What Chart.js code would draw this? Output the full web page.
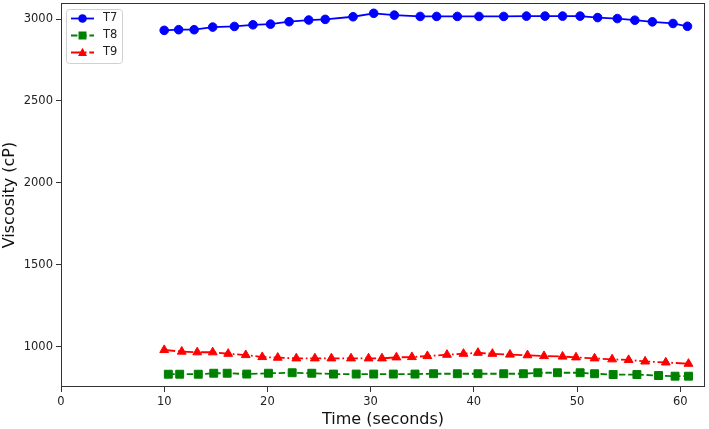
<!DOCTYPE html>
<html>
<head>
<meta charset="utf-8">
<title>Viscosity vs time</title>
<script src="https://cdn.jsdelivr.net/npm/chart.js@4/dist/chart.umd.min.js"></script>
<style>
    html, body { margin: 0; padding: 0; background: #fff; }
    #wrap { width: 709px; height: 429px; }
</style>
</head>
<body>
<div id="wrap"><canvas id="viscChart" width="709" height="429"></canvas></div>
<script>
// values: time in seconds, viscosity in cP
var t7Time = [10.0, 11.4, 12.9, 14.7, 16.8, 18.6, 20.3, 22.1, 24.0, 25.6, 28.3, 30.3, 32.3, 34.8,
              36.4, 38.4, 40.5, 42.9, 45.1, 46.9, 48.6, 50.3, 52.0, 53.9, 55.6, 57.3, 59.3, 60.7];
var t7Visc = [2931, 2935, 2935, 2951, 2955, 2965, 2969, 2984, 2994, 2998, 3014, 3035, 3024, 3016,
              3016, 3016, 3016, 3016, 3018, 3018, 3018, 3018, 3009, 3003, 2993, 2983, 2973, 2956];

var t8Time = [10.4, 11.5, 13.3, 14.8, 16.1, 18.0, 20.1, 22.4, 24.3, 26.4, 28.6, 30.3, 32.2, 34.3,
              36.1, 38.4, 40.4, 42.9, 44.8, 46.2, 48.1, 50.3, 51.7, 53.5, 55.8, 57.9, 59.5, 60.8];
var t8Visc = [832, 832, 832, 838, 838, 833, 838, 841, 838, 833, 833, 833, 833, 833,
              835, 835, 835, 835, 835, 841, 841, 841, 835, 830, 830, 824, 820, 820];

var t9Time = [10.0, 11.7, 13.2, 14.7, 16.2, 17.9, 19.5, 21.0, 22.8, 24.6, 26.2, 28.1, 29.8, 31.1, 32.5, 34.0,
              35.5, 37.4, 39.0, 40.4, 41.8, 43.5, 45.2, 46.8, 48.6, 49.9, 51.7, 53.4, 55.0, 56.6, 58.6, 60.8];
var t9Visc = [980, 970, 966, 966, 957, 949, 937, 933, 929, 929, 929, 929, 929, 929, 935, 937,
              943, 951, 957, 963, 957, 952, 948, 943, 940, 935, 929, 923, 919, 910, 904, 896];

var seriesNames = ["T7", "T8", "T9"];
var xTicks = [0, 10, 20, 30, 40, 50, 60];
var yTicks = [1000, 1500, 2000, 2500, 3000];

var FONT = "'DejaVu Sans', sans-serif";

function toPoints(xs, ys) {
    var out = [];
    for (var i = 0; i < xs.length; i++) out.push({ x: xs[i], y: ys[i] });
    return out;
}

// marker drawn in the legend, same look as on the lines
function legendMarker(ctx, style, x, y, color) {
    ctx.save();
    ctx.fillStyle = color;
    ctx.beginPath();
    if (style === 'circle') {
        ctx.arc(x, y, 4.3, 0, Math.PI * 2);
    } else if (style === 'rect') {
        ctx.rect(x - 4, y - 4, 8, 8);
    } else {
        ctx.moveTo(x, y - 4.8);
        ctx.lineTo(x + 4.5, y + 3.4);
        ctx.lineTo(x - 4.5, y + 3.4);
        ctx.closePath();
    }
    ctx.fill();
    ctx.restore();
}

// box round the plot + legend in the top left corner (matplotlib style)
var framePlugin = {
    id: 'frameAndLegend',
    afterDraw: function (chart) {
        var ctx = chart.ctx;
        var a = chart.chartArea;
        ctx.save();
        ctx.strokeStyle = '#333';
        ctx.lineWidth = 1;
        ctx.strokeRect(Math.round(a.left) + 0.5, Math.round(a.top) + 0.5,
                       Math.round(a.right - a.left) - 1, Math.round(a.bottom - a.top) - 1);

        // legend box
        var bx = 66.5, by = 9.5, bw = 56, bh = 54;
        ctx.beginPath();
        if (ctx.roundRect) ctx.roundRect(bx, by, bw, bh, 3); else ctx.rect(bx, by, bw, bh);
        ctx.fillStyle = 'rgba(255,255,255,0.8)';
        ctx.fill();
        ctx.strokeStyle = '#d0d0d0';
        ctx.stroke();

        var rows = [18.5, 35.5, 52.5];
        chart.data.datasets.forEach(function (ds, i) {
            var yy = rows[i];
            ctx.save();
            ctx.strokeStyle = ds.borderColor;
            ctx.lineWidth = ds.borderWidth;
            ctx.setLineDash(ds.borderDash || []);
            ctx.beginPath();
            ctx.moveTo(71, yy);
            ctx.lineTo(94, yy);
            ctx.stroke();
            ctx.restore();
            legendMarker(ctx, ds.pointStyle, 82.5, yy, ds.borderColor);
            ctx.fillStyle = '#222';
            ctx.font = '11.5px ' + FONT;
            ctx.textBaseline = 'middle';
            ctx.textAlign = 'left';
            ctx.fillText(ds.label, 103, yy);
        });
        ctx.restore();
    }
};

var ctx = document.getElementById('viscChart');
var myChart = new Chart(ctx, {
    type: 'line',
    data: {
        datasets: [
            {
                label: seriesNames[0],
                data: toPoints(t7Time, t7Visc),
                borderColor: '#0000ff',
                backgroundColor: '#0000ff',
                borderWidth: 1.8,
                pointStyle: 'circle',
                pointRadius: 4.3,
                pointBackgroundColor: '#0000ff',
                pointBorderColor: '#0000ff',
                pointBorderWidth: 1,
                tension: 0
            },
            {
                label: seriesNames[1],
                data: toPoints(t8Time, t8Visc),
                borderColor: '#008000',
                backgroundColor: '#008000',
                borderWidth: 1.8,
                borderDash: [6.4, 2.8],
                pointStyle: 'rect',
                pointRadius: 5.6,
                pointBackgroundColor: '#008000',
                pointBorderColor: '#008000',
                pointBorderWidth: 1,
                tension: 0
            },
            {
                label: seriesNames[2],
                data: toPoints(t9Time, t9Visc),
                borderColor: '#ff0000',
                backgroundColor: '#ff0000',
                borderWidth: 1.8,
                borderDash: [11, 2.8, 1.7, 2.8],
                pointStyle: 'triangle',
                pointRadius: 5.1,
                pointBackgroundColor: '#ff0000',
                pointBorderColor: '#ff0000',
                pointBorderWidth: 1,
                tension: 0
            }
        ]
    },
    options: {
        responsive: false,
        animation: false,
        devicePixelRatio: 1,
        layout: { autoPadding: false, padding: { left: 0, right: 4, top: 3, bottom: 0 } },
        plugins: {
            legend: { display: false },
            tooltip: { enabled: false }
        },
        scales: {
            x: {
                type: 'linear',
                min: 0,
                max: 62.4,
                border: { display: false },
                grid: { drawOnChartArea: false, drawTicks: true, tickLength: 5, tickColor: '#333', lineWidth: 1 },
                ticks: {
                    padding: 3,
                    color: '#222',
                    font: { family: FONT, size: 11.5 },
                    maxRotation: 0,
                    callback: function (v) { return String(v); }
                },
                afterBuildTicks: function (scale) {
                    scale.ticks = xTicks.map(function (v) { return { value: v }; });
                },
                afterFit: function (scale) {
                    scale.height = 42;
                    scale.paddingLeft = 0;
                    scale.paddingRight = 0;
                },
                title: {
                    display: true,
                    text: 'Time (seconds)',
                    color: '#111',
                    font: { family: FONT, size: 16 },
                    padding: { top: 0, bottom: 0 }
                }
            },
            y: {
                type: 'linear',
                min: 754,
                max: 3098,
                border: { display: false },
                grid: { drawOnChartArea: false, drawTicks: true, tickLength: 5, tickColor: '#333', lineWidth: 1 },
                ticks: {
                    padding: 3,
                    color: '#222',
                    font: { family: FONT, size: 11.5 },
                    callback: function (v) { return String(v); }
                },
                afterBuildTicks: function (scale) {
                    scale.ticks = yTicks.map(function (v) { return { value: v }; });
                },
                afterFit: function (scale) {
                    scale.width = 61;
                    scale.paddingTop = 0;
                    scale.paddingBottom = 0;
                },
                title: {
                    display: true,
                    text: 'Viscosity (cP)',
                    color: '#111',
                    font: { family: FONT, size: 16 },
                    padding: { top: 0, bottom: 0 }
                }
            }
        }
    },
    plugins: [framePlugin]
});
</script>
</body>
</html>
